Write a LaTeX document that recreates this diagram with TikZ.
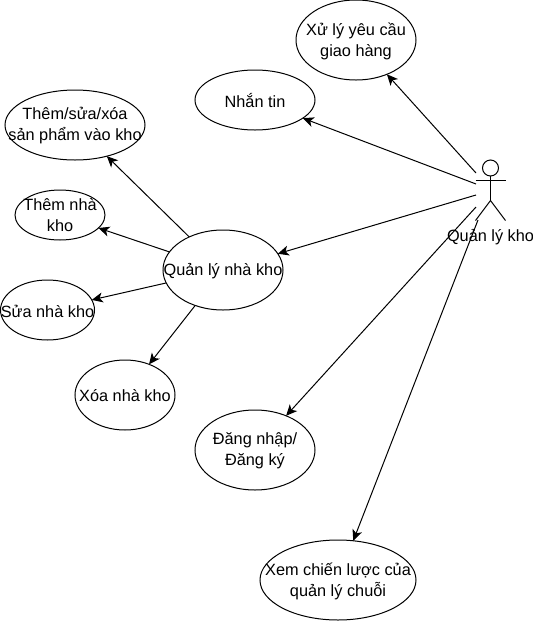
\documentclass[tikz,border=0pt]{standalone}
\usepackage{fontspec}
\setmainfont{Liberation Sans}
\usetikzlibrary{shapes.geometric,arrows.meta}
\tikzset{
  uc/.style={ellipse,draw=black,line width=1pt,inner sep=0pt,outer sep=0pt,fill=white},
  ctxt/.style={font=\fontsize{16.3}{21}\selectfont,align=center,inner sep=0pt},
  link/.style={draw=black,line width=1pt,-{Stealth[length=11pt,width=10pt,inset=3pt]}},
  actorline/.style={draw=black,line width=1pt}
}
\begin{document}
\begin{tikzpicture}[x=1pt,y=-1pt]
\useasboundingbox (0,0) rectangle (533,622);
% use cases
\node[uc,minimum width=120pt,minimum height=80pt] (xuly) at (356,40) {};
\node[uc,minimum width=120pt,minimum height=60pt] (nhan) at (255,100) {};
\node[uc,minimum width=140pt,minimum height=70pt] (them) at (75,125) {};
\node[uc,minimum width=90pt,minimum height=50pt] (nha) at (60,215) {};
\node[uc,minimum width=120pt,minimum height=80pt] (ql) at (223,270) {};
\node[uc,minimum width=94pt,minimum height=60pt] (sua) at (47.5,310) {};
\node[uc,minimum width=100pt,minimum height=70pt] (xoa) at (125,395) {};
\node[uc,minimum width=120pt,minimum height=80pt] (dang) at (255,450) {};
\node[uc,minimum width=156pt,minimum height=80pt] (xem) at (338,580) {};
% texts
\node[ctxt] (txuly) at (356,41) {Xử lý yêu cầu\\giao hàng};
\node[ctxt] (tnhan) at (255,101) {Nhắn tin};
\node[ctxt] (tthem) at (75,125.5) {Thêm/sửa/xóa\\sản phẩm vào kho};
\node[ctxt] (tnha) at (60,215.5) {Thêm nhà\\kho};
\node[ctxt] (tql) at (223,271) {Quản lý nhà kho};
\node[ctxt] (tsua) at (47.5,311) {Sửa nhà kho};
\node[ctxt] (txoa) at (125,396) {Xóa nhà kho};
\node[ctxt] (tdang) at (255,451) {Đăng nhập/\\Đăng ký};
\node[ctxt] (txem) at (338,581) {Xem chiến lược của\\quản lý chuỗi};
% actor
\node[circle,draw=black,line width=1pt,minimum size=16pt,inner sep=0pt] (head) at (490.5,168) {};
\coordinate (neck) at (490.5,176);
\coordinate (hip) at (490.5,200.5);
\coordinate (armL) at (475.5,180.5);
\coordinate (armR) at (505.5,180.5);
\coordinate (legL) at (475.5,220.5);
\coordinate (legR) at (505.5,220.5);
\draw[actorline] (neck) -- (hip);
\draw[actorline] (armL) -- (armR);
\draw[actorline] (legL) -- (hip) -- (legR);
\node[ctxt] (actor) at (490.5,237) {Quản lý kho};
% actor connection points
\coordinate (a1) at (476,173);
\coordinate (a2) at (476,184);
\coordinate (a3) at (476,195);
\coordinate (a4) at (476,207);
\coordinate (a5) at (478,220);
% connectors
\draw[link] (a1) -- (xuly);
\draw[link] (a2) -- (nhan);
\draw[link] (a3) -- (ql);
\draw[link] (a4) -- (dang);
\draw[link] (a5) -- (xem);
\draw[link] (ql) -- (them);
\draw[link] (ql) -- (nha);
\draw[link] (ql) -- (sua);
\draw[link] (ql) -- (xoa);
\end{tikzpicture}
\end{document}
